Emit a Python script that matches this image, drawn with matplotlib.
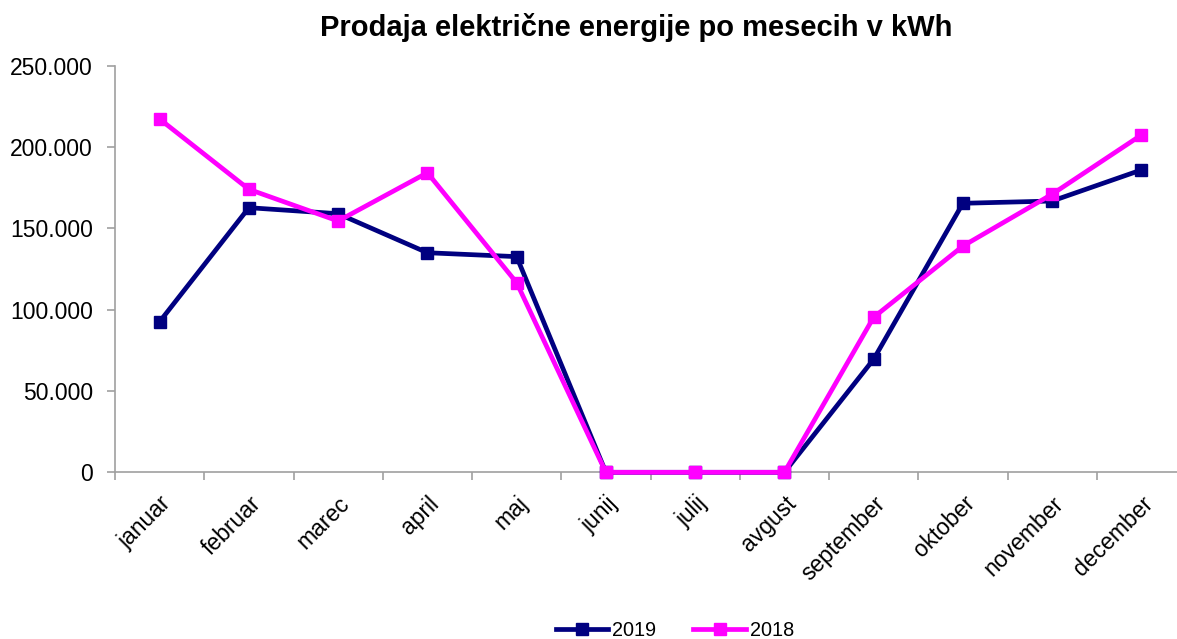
import matplotlib
matplotlib.use("Agg")
import matplotlib.pyplot as plt
from matplotlib.ticker import FuncFormatter, FixedLocator
import numpy as np

months = ["januar", "februar", "marec", "april", "maj", "junij", "julij",
          "avgust", "september", "oktober", "november", "december"]
sales_2019 = [92600, 162700, 159000, 135000, 132600, 0, 0, 0, 69500, 165400, 166800, 185900]
sales_2018 = [217200, 174000, 154500, 184200, 116600, 0, 0, 0, 95300, 139100, 171000, 207400]
series_labels = ["2019", "2018"]
y_ticks = [0, 50000, 100000, 150000, 200000, 250000]

plt.rcParams['font.family'] = ['Liberation Sans', 'DejaVu Sans']

W, H = 1177, 639
fig = plt.figure(figsize=(W / 100, H / 100), dpi=100)
left, right, top, bottom = 115, 1186, 65.7, 472.3
ax = fig.add_axes([left / W, 1 - bottom / H, (right - left) / W, (bottom - top) / H])

x = np.arange(len(months))
ax.plot(x, sales_2019, color="#000080", lw=3.4, marker="s", markersize=9,
        label=series_labels[0], clip_on=False, zorder=3)
ax.plot(x, sales_2018, color="#FF00FF", lw=3.4, marker="s", markersize=9,
        label=series_labels[1], clip_on=False, zorder=4)

ax.set_xlim(-0.5, len(months) - 0.5)
ax.set_ylim(0, 250000)
ax.set_yticks(y_ticks)
ax.yaxis.set_major_formatter(FuncFormatter(lambda v, p: f"{int(v):,}".replace(",", ".")))

ax.xaxis.set_major_locator(FixedLocator(np.arange(-0.5, len(months) + 0.5, 1)))
ax.set_xticklabels([])
ax.xaxis.set_minor_locator(FixedLocator(x))
ax.set_xticklabels(months, minor=True, rotation=45, ha="right", va="top",
                   rotation_mode="anchor", fontsize=16.5)
ax.tick_params(axis="x", which="minor", length=0, pad=14)
ax.tick_params(axis="x", which="major", length=6, color="#a0a0a0", width=1.2)
ax.tick_params(axis="y", length=6, color="#a0a0a0", width=1.2, labelsize=16.5, pad=10)

for s in ["top", "right"]:
    ax.spines[s].set_visible(False)
for s in ["left", "bottom"]:
    ax.spines[s].set_color("#a0a0a0")
    ax.spines[s].set_linewidth(1.2)

fig.text(636 / W, 1 - 27 / H, "Prodaja električne energije po mesecih v kWh",
         ha="center", va="center", fontsize=21, fontweight="bold")

leg = fig.legend(loc="center", bbox_to_anchor=(675 / W, 1 - 630 / H), ncol=2,
                 frameon=False, fontsize=14.3, handlelength=2.65, columnspacing=1.85,
                 handletextpad=0.2, markerscale=1.0)

fig.savefig("out.png", dpi=100)
